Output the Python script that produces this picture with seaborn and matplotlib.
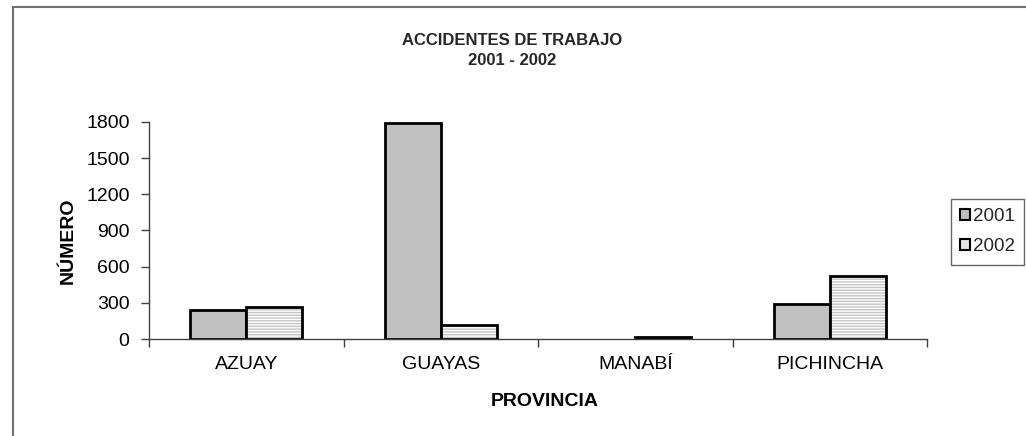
import matplotlib
matplotlib.use("Agg")
import matplotlib.pyplot as plt
from matplotlib.patches import Rectangle
from matplotlib.lines import Line2D
import seaborn as sns
import pandas as pd

# ---- data ----
provincias = ["AZUAY", "GUAYAS", "MANABÍ", "PICHINCHA"]
anios = ["2001", "2002"]
valores_2001 = [240, 1790, 0, 290]
valores_2002 = [265, 115, 20, 525]
y_ticks = [0, 300, 600, 900, 1200, 1500, 1800]

df = pd.DataFrame({
    "PROVINCIA": provincias * 2,
    "NÚMERO": valores_2001 + valores_2002,
    "Año": [anios[0]] * len(provincias) + [anios[1]] * len(provincias),
})

sns.set_theme(style="white")
plt.rcParams["font.family"] = ["Liberation Sans", "DejaVu Sans"]
plt.rcParams["hatch.linewidth"] = 1.0

W, H = 1026, 436
fig = plt.figure(figsize=(W / 100, H / 100), dpi=100)
ax = fig.add_axes([149 / W, 1 - 339 / H, (927 - 149) / W, (339 - 122) / H])

fill_2001 = "#C0C0C0"
hatch_col = "#C4C4C4"
sns.barplot(data=df, x="PROVINCIA", y="NÚMERO", hue="Año", order=provincias,
            hue_order=anios, palette=[fill_2001, "#FFFFFF"], width=0.576,
            edgecolor="black", linewidth=2, saturation=1, legend=False, ax=ax)

# style bars: hatch for 2002, hide zero-height bars
for i, cont in enumerate(ax.containers):
    for p in cont.patches:
        if p.get_height() == 0:
            p.set_visible(False)
            continue
        if i == 1:
            p.set_hatch("------")
            p.set_edgecolor(hatch_col)
            p.set_linewidth(0)
            ax.add_patch(Rectangle(p.get_xy(), p.get_width(), p.get_height(),
                                   fill=False, edgecolor="black", linewidth=2,
                                   zorder=p.get_zorder() + 0.1))

ax.set_xlim(-0.5, len(provincias) - 0.5)
ax.set_ylim(0, 1800)
ax.set_yticks(y_ticks)
ax.set_yticklabels([str(t) for t in y_ticks], fontsize=14, color="black")

# x ticks at category boundaries, labels at centers
ax.set_xticks([i - 0.5 for i in range(len(provincias) + 1)])
ax.set_xticklabels([""] * (len(provincias) + 1))
ax.set_xticks(range(len(provincias)), minor=True)
ax.set_xticklabels(provincias, minor=True, fontsize=14, color="black")
ax.tick_params(axis="x", which="minor", length=0, pad=12)
ax.tick_params(axis="x", which="major", length=6, width=1, color="#404040", direction="out", bottom=True)
ax.tick_params(axis="y", length=6, width=1, color="#404040", direction="out", left=True, pad=8)

for s in ["top", "right"]:
    ax.spines[s].set_visible(False)
for s in ["left", "bottom"]:
    ax.spines[s].set_color("#404040")
    ax.spines[s].set_linewidth(1)
    ax.spines[s].set_zorder(5)

ax.set_ylabel("NÚMERO", fontsize=14, fontweight="bold", color="black")
ax.yaxis.set_label_coords(-0.093, 0.452)
ax.set_xlabel("PROVINCIA", fontsize=14, fontweight="bold", color="black")
ax.xaxis.set_label_coords(0.509, -0.25)

fig.text(512 / W, 1 - 50.5 / H, "ACCIDENTES DE TRABAJO\n2001 - 2002", ha="center",
         va="center", fontsize=12, fontweight="bold", linespacing=1.4)

# legend
handles = [Rectangle((0, 0), 1, 1, facecolor=fill_2001, edgecolor="black", linewidth=1.5),
           Rectangle((0, 0), 1, 1, facecolor="#E4E4E4", edgecolor="black", linewidth=1.5)]
leg = fig.legend(handles, anios, loc="upper left", bbox_to_anchor=(951 / W, 1 - 199 / H),
                 fontsize=13.5, frameon=True, fancybox=False, handlelength=0.5,
                 handleheight=0.5, handletextpad=0.15, labelspacing=0.68,
                 borderpad=0.5, borderaxespad=0)
leg.get_frame().set_edgecolor("#404040")
leg.get_frame().set_linewidth(1)

# outer chart border (top and left visible)
fig.add_artist(Line2D([13 / W, 1.0], [1 - 7 / H, 1 - 7 / H], color="#707070", lw=1.5,
                      transform=fig.transFigure))
fig.add_artist(Line2D([13 / W, 13 / W], [1 - 7 / H, 0.0], color="#707070", lw=1.5,
                      transform=fig.transFigure))

fig.savefig("out.png", dpi=100, facecolor="white")
